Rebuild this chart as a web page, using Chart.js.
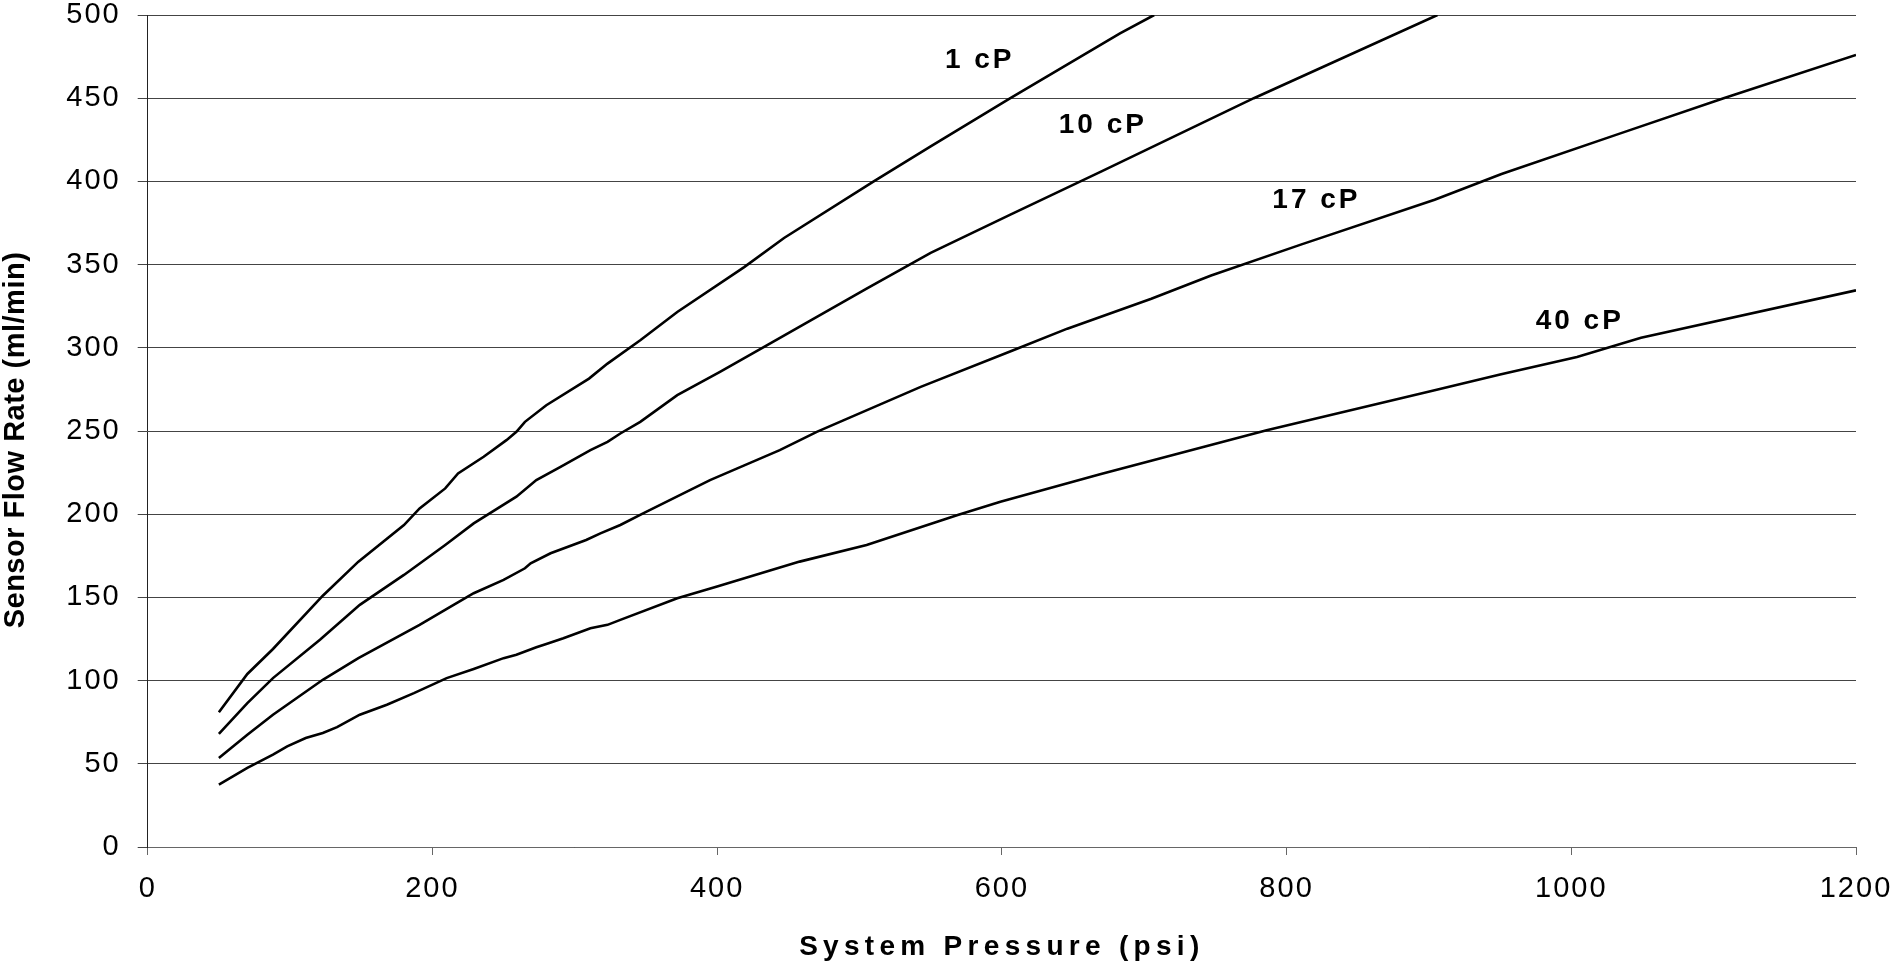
<!DOCTYPE html>
<html>
<head>
<meta charset="utf-8">
<script src="https://cdn.jsdelivr.net/npm/chart.js@4.4.1/dist/chart.umd.min.js"></script>
<style>
  html, body { margin: 0; padding: 0; background: #fff; }
  #wrap { width: 1894px; height: 964px; position: relative; }
</style>
</head>
<body>
<div id="wrap"><canvas id="flowChart"></canvas></div>
<script>
"use strict";
// System pressure (psi) vs sensor flow rate (ml/min), one curve per viscosity
const psi1cP = [50, 70, 88, 123, 148, 180, 191, 209, 218, 236, 252, 259, 265, 280, 310, 323, 346, 372, 419, 447, 510, 550, 606, 683, 707];
const flow1cP = [81, 104, 119, 151, 171.5, 193.5, 203.5, 215.5, 224.5, 234.5, 244.5, 249.5, 255.5, 265.5, 281.5, 290.5, 304.5, 321.5, 348.5, 366, 400, 421, 450, 489, 500];

const psi10cP = [50, 70, 88, 121, 149, 180, 209, 229, 259, 273, 290, 311, 323, 332, 346, 372, 402, 433, 505, 550, 606, 670, 777, 906];
const flow10cP = [68, 86.5, 101.5, 124.5, 145.5, 163.5, 181.5, 194.5, 210.5, 220.5, 228.5, 238.5, 243.5, 248.5, 255.5, 271.5, 285.5, 300.5, 335.5, 357, 380, 406, 450, 500];

const psi17cP = [50, 70, 88, 123, 148, 191, 211, 229, 250, 265, 269, 283, 308, 318, 332, 348, 395, 444, 470, 543, 608, 646, 705, 747, 810, 904, 951, 1035, 1107, 1200];
const flow17cP = [53.5, 67.5, 79.5, 100.5, 113.5, 133.5, 143.5, 152.5, 160.5, 167.5, 170.5, 176.5, 184.5, 188.5, 193.5, 200.5, 220.5, 238.5, 249.5, 276.5, 298.5, 311.5, 329.5, 343.5, 362, 389, 404.5, 429, 450, 476];

const psi40cP = [50, 70, 88, 98, 111, 123, 133, 149, 168, 187, 210, 229, 250, 259, 273, 280, 292, 311, 323, 332, 372, 400, 458, 505, 569, 599, 669, 786, 904, 950, 1004, 1049, 1200];
const flow40cP = [37.5, 47.5, 55.5, 60.5, 65.5, 68.5, 72, 79.5, 85.5, 92.5, 101.5, 107, 113.5, 115.5, 120, 122, 125.5, 131.5, 133.5, 136.5, 149.5, 156.5, 171.5, 181.5, 199.5, 207.5, 224, 250.5, 274.5, 284, 294.5, 306, 334.5];

// curve names and where their labels sit (psi, ml/min of the label's left baseline)
const curveNames = ["1 cP", "10 cP", "17 cP", "40 cP"];
const labelPsi = [560, 640, 790, 975];
const labelFlow = [468, 429, 384, 311];

const xTicks = { min: 0, max: 1200, step: 200 };
const yTicks = { min: 0, max: 500, step: 50 };

const FONT = "'Liberation Sans', Arial, sans-serif";

function points(xs, ys) {
    return xs.map((x, i) => ({ x: x, y: ys[i] }));
}

const curves = [
    points(psi1cP, flow1cP),
    points(psi10cP, flow10cP),
    points(psi17cP, flow17cP),
    points(psi40cP, flow40cP)
];

// canvas letter spacing per scale part, and a small nudge for the y title
const spacing = {
    x: { labels: "2px", title: "5.3px", shift: 0 },
    y: { labels: "2px", title: "0.5px", shift: 9 }
};

function withSpacing(scale, method, value, shift) {
    const orig = scale[method];
    scale[method] = function () {
        const ctx = this.ctx;
        const prev = ctx.letterSpacing;
        ctx.save();
        ctx.translate(0, shift || 0);
        ctx.letterSpacing = value;
        orig.apply(this, arguments);
        ctx.restore();
        ctx.letterSpacing = prev;
    };
}

const spacingPlugin = {
    id: "spacing",
    afterLayout(chart) {
        Object.keys(spacing).forEach(id => {
            const scale = chart.scales[id];
            if (!scale || scale._spaced) return;
            withSpacing(scale, "drawLabels", spacing[id].labels, 0);
            withSpacing(scale, "drawTitle", spacing[id].title, spacing[id].shift);
            scale._spaced = true;
        });
    }
};

const curveLabels = {
    id: "curveLabels",
    afterDatasetsDraw(chart) {
        const { ctx, scales } = chart;
        ctx.save();
        ctx.letterSpacing = "3px";
        ctx.font = "bold 28px " + FONT;
        ctx.fillStyle = "#000";
        ctx.textAlign = "left";
        ctx.textBaseline = "alphabetic";
        curveNames.forEach((name, i) => {
            ctx.fillText(name, scales.x.getPixelForValue(labelPsi[i]), scales.y.getPixelForValue(labelFlow[i]));
        });
        ctx.restore();
    }
};

new Chart(document.getElementById("flowChart"), {
    type: "scatter",
    data: {
        datasets: curves.map((pts, i) => ({
            label: curveNames[i],
            data: pts,
            showLine: true,
            borderColor: "#000",
            backgroundColor: "#000",
            borderWidth: 2.6,
            pointRadius: 0,
            tension: 0,
            fill: false
        }))
    },
    options: {
        responsive: true,
        maintainAspectRatio: false,
        animation: false,
        layout: { padding: { left: 0, top: 15, right: 38, bottom: 0 } },
        plugins: {
            legend: { display: false },
            tooltip: { enabled: false }
        },
        scales: {
            x: {
                type: "linear",
                min: xTicks.min,
                max: xTicks.max,
                ticks: {
                    stepSize: xTicks.step,
                    color: "#000",
                    padding: 17,
                    maxRotation: 0,
                    font: { family: FONT, size: 29 },
                    callback: v => String(v)
                },
                grid: {
                    drawOnChartArea: false,
                    drawTicks: true,
                    tickLength: 8,
                    color: "#666"
                },
                border: { color: "#666", width: 1 },
                title: {
                    display: true,
                    text: "System Pressure (psi)",
                    color: "#000",
                    padding: 0,
                    font: { family: FONT, size: 28, weight: "bold" }
                },
                afterFit(scale) {
                    scale.height = 117;
                    scale.paddingLeft = 0;
                    scale.paddingRight = 0;
                }
            },
            y: {
                type: "linear",
                min: yTicks.min,
                max: yTicks.max,
                ticks: {
                    stepSize: yTicks.step,
                    color: "#000",
                    padding: 17,
                    font: { family: FONT, size: 29 },
                    callback: v => String(v)
                },
                grid: {
                    color: "#444",
                    lineWidth: 1,
                    drawTicks: true,
                    tickLength: 10
                },
                border: { color: "#222", width: 1 },
                title: {
                    display: true,
                    text: "Sensor Flow Rate (ml/min)",
                    color: "#000",
                    padding: 0,
                    font: { family: FONT, size: 29, weight: "bold", lineHeight: 1.1 }
                },
                afterFit(scale) {
                    scale.width = 147.7;
                    scale.paddingTop = 0;
                    scale.paddingBottom = 0;
                }
            }
        }
    },
    plugins: [spacingPlugin, curveLabels]
});
</script>
</body>
</html>
